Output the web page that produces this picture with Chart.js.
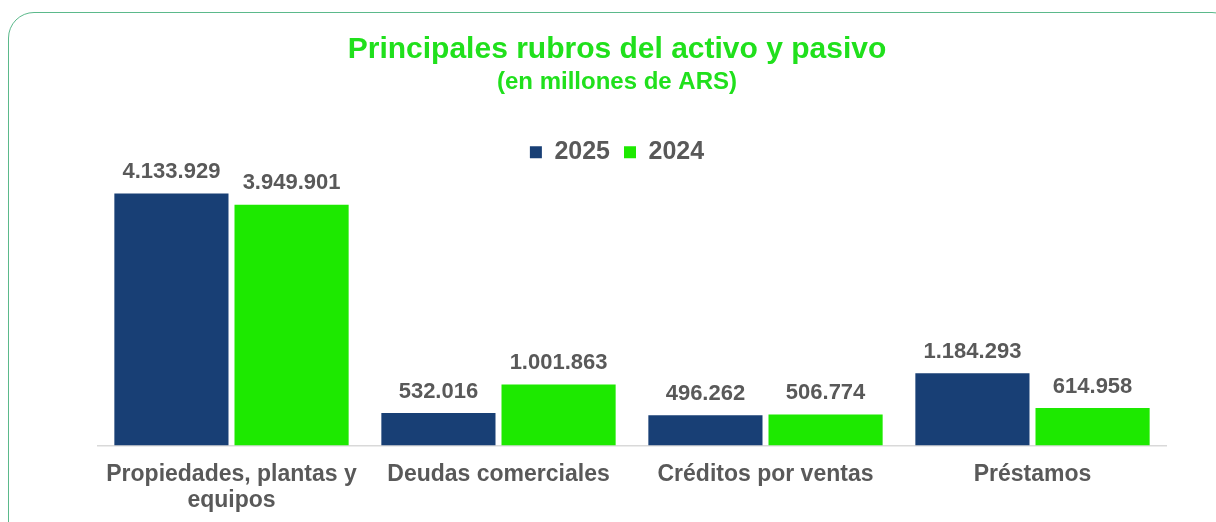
<!DOCTYPE html>
<html lang="es">
<head>
<meta charset="utf-8">
<title>Principales rubros del activo y pasivo</title>
<script src="https://cdn.jsdelivr.net/npm/chart.js@4/dist/chart.umd.min.js"></script>
<style>
    html, body { margin: 0; padding: 0; background: #ffffff; overflow: hidden; }
    #marco {
        position: absolute; left: 8px; top: 12px;
        width: 1230px; height: 540px;
        border: 1.5px solid #5bb98b; border-radius: 26px;
        box-sizing: border-box;
    }
    #lienzo { position: absolute; left: 0; top: 0; width: 1216px; height: 522px; }
</style>
</head>
<body>
<div id="marco"></div>
<div id="lienzo"><canvas id="grafico" width="1216" height="522"></canvas></div>
<script>
'use strict';

// ─── Datos ────────────────────────────────────────────────────────────────────
const CATEGORIAS = [
    ['Propiedades, plantas y', 'equipos'],
    'Deudas comerciales',
    'Créditos por ventas',
    'Préstamos'
];
const SERIES     = ['2025', '2024'];
const VALORES_25 = [4133929, 532016, 496262, 1184293];
const VALORES_24 = [3949901, 1001863, 506774, 614958];

const AZUL  = '#183f75';
const VERDE = '#1de900';
const GRIS  = '#595959';
const VERDE_TITULO = '#20e01c';
const FUENTE = '"Liberation Sans", Arial, sans-serif';
const Y_MAX = 4440000;

// ─── Utils ────────────────────────────────────────────────────────────────────
function formatMiles(valor) {
    return String(valor).replace(/\B(?=(\d{3})+(?!\d))/g, '.');
}

// Etiquetas sobre cada barra (no hay plugin datalabels disponible)
const etiquetasBarras = {
    id: 'etiquetasBarras',
    afterDatasetsDraw(chart) {
        const ctx = chart.ctx;
        ctx.save();
        ctx.font = 'bold 22px ' + FUENTE;
        ctx.fillStyle = GRIS;
        ctx.textAlign = 'center';
        ctx.textBaseline = 'alphabetic';
        chart.data.datasets.forEach(function (ds, i) {
            chart.getDatasetMeta(i).data.forEach(function (barra, j) {
                ctx.fillText(formatMiles(ds.data[j]), barra.x, barra.y - 15.5);
            });
        });
        ctx.restore();
    }
};

// ─── Gráfico ──────────────────────────────────────────────────────────────────
new Chart(document.getElementById('grafico').getContext('2d'), {
    type: 'bar',
    data: {
        labels: CATEGORIAS,
        datasets: [
            { label: SERIES[0], data: VALORES_25, backgroundColor: AZUL },
            { label: SERIES[1], data: VALORES_24, backgroundColor: VERDE },
        ],
    },
    options: {
        responsive: false,
        animation: false,
        categoryPercentage: 0.9,
        barPercentage: 0.95,
        layout: { padding: { top: 14, left: 68, right: 50, bottom: 0 } },
        plugins: {
            title: {
                display: true,
                text: 'Principales rubros del activo y pasivo',
                color: VERDE_TITULO,
                font: { family: FUENTE, size: 30, weight: 'bold' },
                padding: { top: 18, bottom: 0 },
            },
            subtitle: {
                display: true,
                text: '(en millones de ARS)',
                color: VERDE_TITULO,
                font: { family: FUENTE, size: 24, weight: 'bold' },
                padding: { top: 0, bottom: 29 },
            },
            legend: {
                labels: {
                    boxWidth: 12,
                    boxHeight: 12,
                    padding: 14,
                    color: GRIS,
                    font: { family: FUENTE, size: 25, weight: 'bold' },
                },
            },
            tooltip: { enabled: false },
        },
        scales: {
            x: {
                grid: { display: false, drawTicks: false },
                border: { display: true, color: '#d9d9d9', width: 1.5 },
                ticks: {
                    color: GRIS,
                    padding: 17,
                    maxRotation: 0,
                    font: { family: FUENTE, size: 23, weight: 'bold', lineHeight: 1.1 },
                },
                afterFit: function (escala) { escala.height = 76.5; },
            },
            y: {
                min: 0,
                max: Y_MAX,
                grid: { display: false, drawTicks: false },
                border: { display: false },
                ticks: { display: false },
                afterFit: function (escala) { escala.width = 30; },
            },
        },
    },
    plugins: [etiquetasBarras],
});
</script>
</body>
</html>
